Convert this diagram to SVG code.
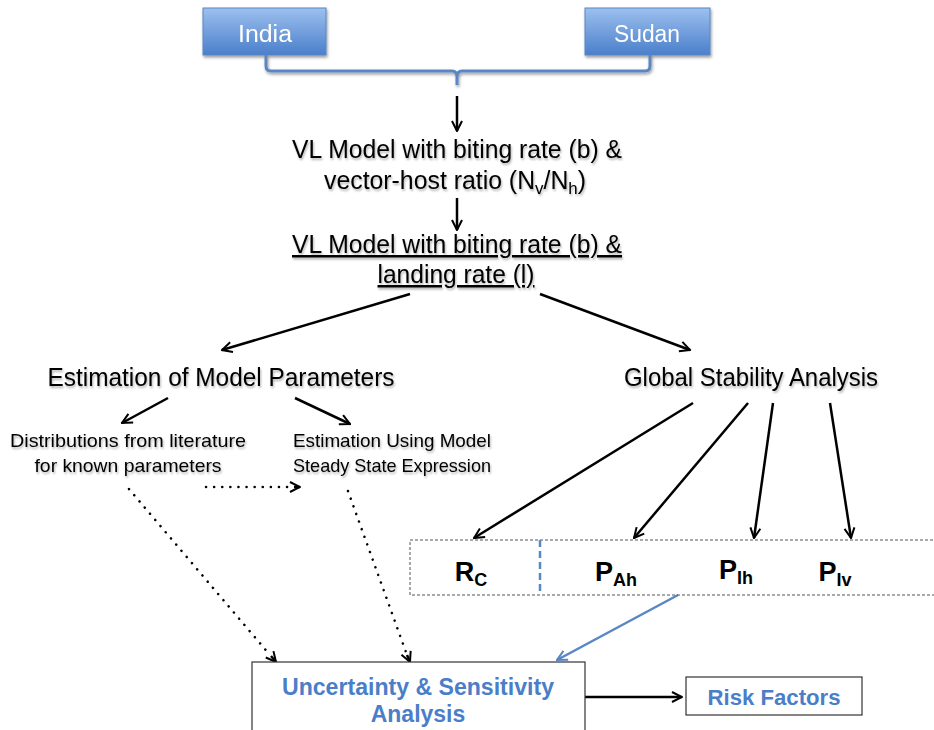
<svg xmlns="http://www.w3.org/2000/svg" width="934" height="730" viewBox="0 0 934 730">
<defs>
<linearGradient id="bg" x1="0" y1="0" x2="0" y2="1">
<stop offset="0" stop-color="#9dc0ee"/>
<stop offset="1" stop-color="#4a7fcb"/>
</linearGradient>
<filter id="sh" x="-10%" y="-10%" width="130%" height="140%">
<feGaussianBlur in="SourceAlpha" stdDeviation="1.5"/>
<feOffset dx="1" dy="2"/>
<feComponentTransfer><feFuncA type="linear" slope="0.4"/></feComponentTransfer>
<feMerge><feMergeNode/><feMergeNode in="SourceGraphic"/></feMerge>
</filter>
<filter id="tsh" x="-5%" y="-20%" width="110%" height="150%">
<feGaussianBlur in="SourceAlpha" stdDeviation="1"/>
<feOffset dx="1" dy="1.5"/>
<feComponentTransfer><feFuncA type="linear" slope="0.3"/></feComponentTransfer>
<feMerge><feMergeNode/><feMergeNode in="SourceGraphic"/></feMerge>
</filter>
<marker id="ah" viewBox="0 0 10 10" refX="9" refY="5" markerWidth="5" markerHeight="5" orient="auto" markerUnits="strokeWidth">
<path d="M1,1 L9,5 L1,9" fill="none" stroke="#000" stroke-width="1.6"/>
</marker>
<marker id="ahb" viewBox="0 0 10 10" refX="9" refY="5" markerWidth="5" markerHeight="5" orient="auto" markerUnits="strokeWidth">
<path d="M1,1 L9,5 L1,9" fill="none" stroke="#5a86c4" stroke-width="1.6"/>
</marker>
</defs>
<style>
.t{font-family:"Liberation Sans",Arial,sans-serif;fill:#000;text-anchor:middle}
.mid{font-size:25px}
.sm{font-size:19px}
.w{fill:#fff;font-size:23px}
.b{font-family:"Liberation Sans",Arial,sans-serif;font-weight:bold;text-anchor:middle}
.blue{fill:#4a7ec8}
.conn{stroke:#000;stroke-width:2.5;fill:none}
.dot{stroke:#000;stroke-width:2.5;fill:none;stroke-dasharray:0.1 8;stroke-linecap:round}
</style>
<g id="india" filter="url(#sh)">
<rect x="203" y="8" width="123" height="47" fill="url(#bg)" stroke="#5a86c4" stroke-width="1"/>
<text class="t w" x="265" y="42" textLength="54" lengthAdjust="spacingAndGlyphs">India</text>
</g>
<g id="sudan" filter="url(#sh)">
<rect x="585" y="8" width="125" height="47" fill="url(#bg)" stroke="#5a86c4" stroke-width="1"/>
<text class="t w" x="647" y="42" textLength="66" lengthAdjust="spacingAndGlyphs">Sudan</text>
</g>
<g id="connectors">
<path d="M266,55 V66 Q266,71 271,71 H452 Q457,71 457,77 V85 M457,77 Q457,71 462,71 H645 Q650,71 650,66 V55" fill="none" stroke="#5a86c4" stroke-width="3" filter="url(#sh)"/>
<line class="conn" x1="457" y1="96" x2="457" y2="131" marker-end="url(#ah)"/>
<line class="conn" x1="457" y1="198" x2="457" y2="230" marker-end="url(#ah)"/>
<line class="conn" x1="410" y1="294" x2="222" y2="350" marker-end="url(#ah)"/>
<line class="conn" x1="540" y1="294" x2="690" y2="350" marker-end="url(#ah)"/>
<line class="conn" x1="168" y1="398" x2="122" y2="423" marker-end="url(#ah)"/>
<line class="conn" x1="295" y1="398" x2="350" y2="424" marker-end="url(#ah)"/>
<line class="conn" x1="693" y1="403" x2="474" y2="538" marker-end="url(#ah)"/>
<line class="conn" x1="748" y1="403" x2="634" y2="538" marker-end="url(#ah)"/>
<line class="conn" x1="773" y1="403" x2="754" y2="538" marker-end="url(#ah)"/>
<line class="conn" x1="830" y1="403" x2="851" y2="538" marker-end="url(#ah)"/>
<line class="dot" x1="206" y1="487" x2="296" y2="487"/>
<line class="conn" x1="294" y1="487" x2="300" y2="487" marker-end="url(#ah)"/>
<line class="dot" x1="129" y1="489" x2="270" y2="655"/>
<line class="conn" x1="271" y1="656" x2="276" y2="662" marker-end="url(#ah)"/>
<line class="dot" x1="348" y1="491" x2="407" y2="655"/>
<line class="conn" x1="407" y1="655" x2="410" y2="662" marker-end="url(#ah)"/>
<line x1="678" y1="595" x2="557" y2="660" stroke="#5a86c4" stroke-width="2.5" marker-end="url(#ahb)"/>
<line class="conn" x1="585" y1="697" x2="682" y2="697" marker-end="url(#ah)"/>
</g>
<g id="model1" filter="url(#tsh)">
<text class="t mid" x="457" y="158" textLength="330" lengthAdjust="spacingAndGlyphs">VL Model with biting rate (b) &amp;</text>
<text class="t mid" x="455" y="189" textLength="262" lengthAdjust="spacingAndGlyphs">vector-host ratio (N<tspan font-size="17" dy="5">v</tspan><tspan dy="-5">/N</tspan><tspan font-size="17" dy="5">h</tspan><tspan dy="-5">)</tspan></text>
</g>
<g id="model2" filter="url(#tsh)">
<text class="t mid" x="457" y="253" textLength="330" lengthAdjust="spacingAndGlyphs" text-decoration="underline">VL Model with biting rate (b) &amp;</text>
<text class="t mid" x="456" y="283" text-decoration="underline" textLength="157" lengthAdjust="spacingAndGlyphs">landing rate (l)</text>
</g>
<g id="estimation" filter="url(#tsh)">
<text class="t mid" x="221" y="386" textLength="347" lengthAdjust="spacingAndGlyphs">Estimation of Model Parameters</text>
</g>
<g id="global" filter="url(#tsh)">
<text class="t mid" x="751" y="386" textLength="254" lengthAdjust="spacingAndGlyphs">Global Stability Analysis</text>
</g>
<g id="distributions" filter="url(#tsh)">
<text class="t sm" x="128" y="447" textLength="236" lengthAdjust="spacingAndGlyphs">Distributions from literature</text>
<text class="t sm" x="128" y="472" textLength="187" lengthAdjust="spacingAndGlyphs">for known parameters</text>
</g>
<g id="steady" filter="url(#tsh)">
<text class="t sm" x="392" y="447" textLength="198" lengthAdjust="spacingAndGlyphs">Estimation Using Model</text>
<text class="t sm" x="392" y="472" textLength="198" lengthAdjust="spacingAndGlyphs">Steady State Expression</text>
</g>
<g id="params">
<rect x="410" y="540" width="530" height="55" fill="none" stroke="#555" stroke-width="1" stroke-dasharray="3 2"/>
<line x1="540" y1="540" x2="540" y2="595" stroke="#5a86c4" stroke-width="2.5" stroke-dasharray="7 4"/>
<text class="b" font-size="27" x="471" y="581">R<tspan font-size="18" dy="5">C</tspan></text>
<text class="b" font-size="27" x="616" y="581">P<tspan font-size="18" dy="5">Ah</tspan></text>
<text class="b" font-size="27" x="736" y="579">P<tspan font-size="18" dy="5">Ih</tspan></text>
<text class="b" font-size="27" x="835" y="581">P<tspan font-size="18" dy="5">Iv</tspan></text>
</g>
<g id="uncertainty">
<rect x="252" y="662" width="333" height="70" fill="#fff" stroke="#333" stroke-width="1.2"/>
<text class="b blue" font-size="23" x="418" y="695" textLength="272" lengthAdjust="spacingAndGlyphs">Uncertainty &amp; Sensitivity</text>
<text class="b blue" font-size="23" x="418" y="722">Analysis</text>
</g>
<g id="risk">
<rect x="686" y="677" width="176" height="38" fill="#fff" stroke="#333" stroke-width="1.2"/>
<text class="b blue" font-size="22.5" x="774" y="705" textLength="133" lengthAdjust="spacingAndGlyphs">Risk Factors</text>
</g>
</svg>
